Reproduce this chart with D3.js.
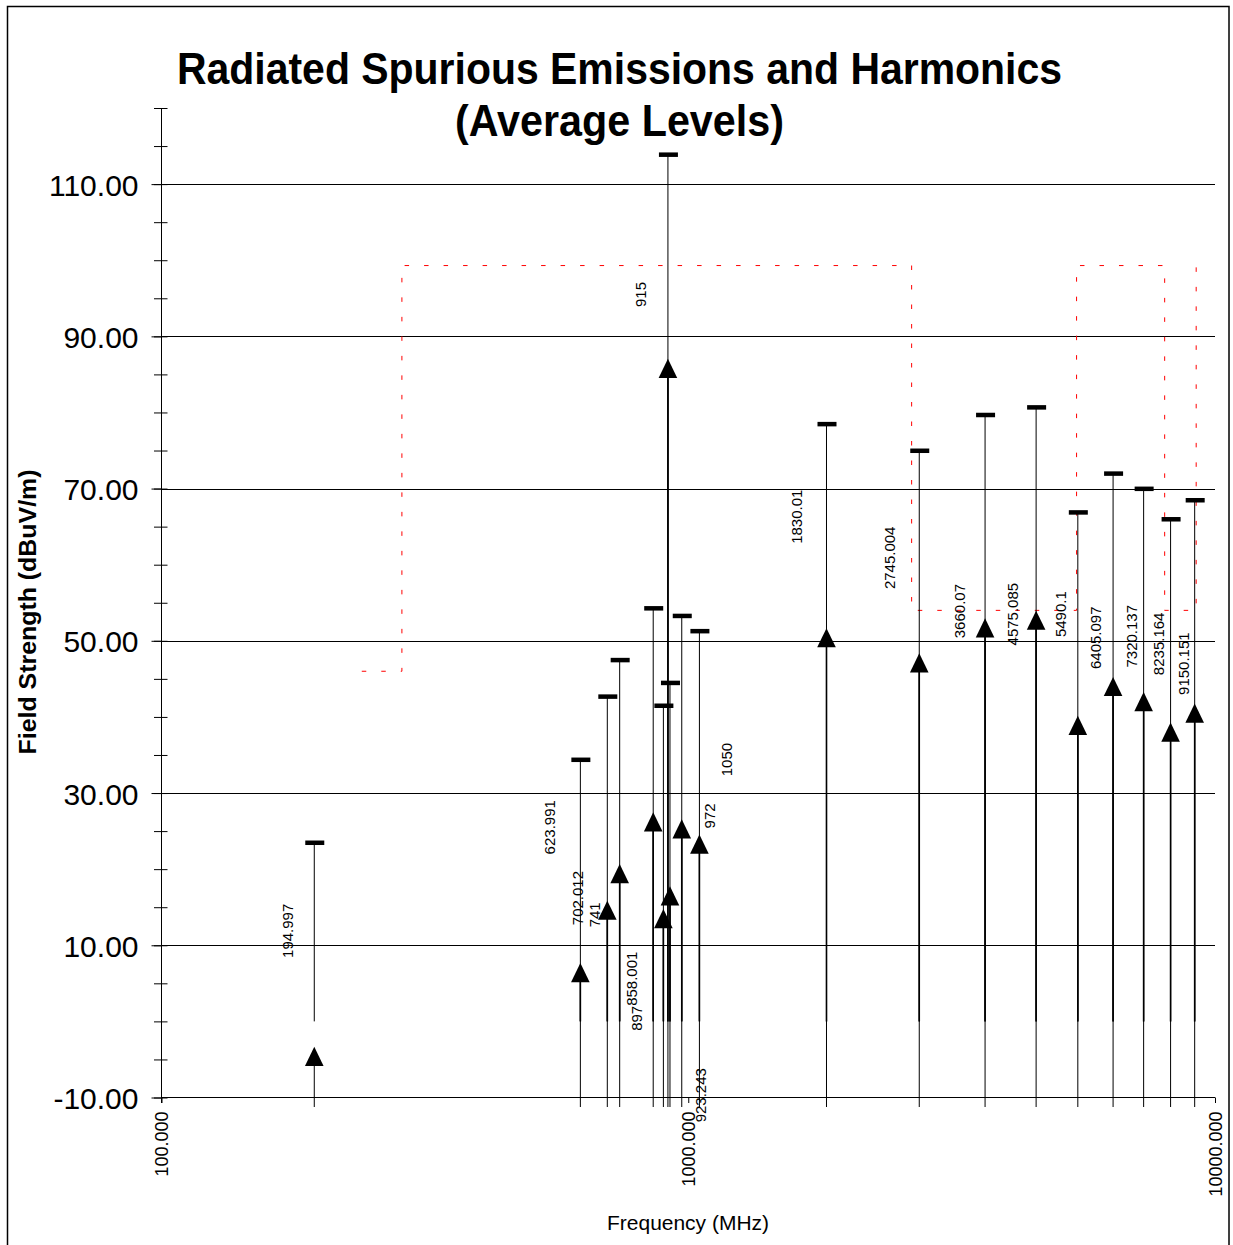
<!DOCTYPE html>
<html>
<head>
<meta charset="utf-8">
<script src="https://cdn.jsdelivr.net/npm/d3@7"></script>
<style>
  html, body { margin: 0; padding: 0; background: #fff; }
  svg { display: block; }
  text { font-family: "Liberation Sans", Arial, sans-serif; fill: #000; }
</style>
</head>
<body>
<svg id="chart" width="1233" height="1245"></svg>
<script>
// ---- data ----
const freqs = [194.997, 623.991, 702.012, 741, 858.001, 897, 915, 923.243, 972, 1050,
               1830.01, 2745.004, 3660.07, 4575.085, 5490.1, 6405.097, 7320.137, 8235.164, 9150.151];
const freqLabels = ["194.997", "623.991", "702.012", "741", "858.001", "897", "915", "923.243", "972", "1050",
                    "1830.01", "2745.004", "3660.07", "4575.085", "5490.1", "6405.097", "7320.137", "8235.164", "9150.151"];
const peakLevels = [23.5, 34.4, 42.7, 47.5, 54.3, 41.5, 113.9, 44.5, 53.3, 51.3,
                    78.5, 75.0, 79.7, 80.7, 66.9, 72.0, 70.0, 66.0, 68.5];
const avgLevels = [-4.6, 6.4, 14.6, 19.4, 26.2, 13.5, 85.8, 16.5, 25.3, 23.3,
                   50.4, 47.1, 51.7, 52.7, 38.9, 44.0, 42.0, 38.0, 40.5];
// level (dBuV/m) at which each data label is centred
const labelLevels = [11.9, 25.5, 16.2, 14.0, 5.6, 0.4, 95.5, -9.7, 27.0, 34.4,
                     66.3, 60.9, 53.9, 53.5, 53.5, 50.4, 50.6, 49.6, 47.0];
// limit line (red dashed)
const limitFreqs = [240, 286, 286, 2655, 2655, 5460, 5460, 8025, 8025, 9210, 9210];
const limitLevels = [46, 46, 99.3, 99.3, 54, 54, 99.3, 99.3, 54, 54, 99.3];
const yMajorTicks = [-10, 10, 30, 50, 70, 90, 110];
const xTicks = [100, 1000, 10000];

// ---- layout (not data) ----
const labelDx = [-27, -31, -30, -25, -21.5, -26.6, -27.7, 31, 28, 26.8,
                 -29.7, -30, -25, -24, -17, -17.8, -12, -12, -10.7];

const svg = d3.select("#chart");
const x = d3.scaleLog().domain([100, 10000]).range([161.5, 1215]);
const y = d3.scaleLinear().domain([-10, 120]).range([1097.5, 108]);

// frame
svg.append("rect").attr("x", 7.5).attr("y", 6.5).attr("width", 1221.5).attr("height", 1250)
  .attr("fill", "none").attr("stroke", "#000").attr("stroke-width", 1.5);

// title
svg.append("text").attr("x", 619.5).attr("y", 83.5).attr("text-anchor", "middle")
  .attr("font-size", 44).attr("font-weight", "bold")
  .attr("textLength", 885).attr("lengthAdjust", "spacingAndGlyphs")
  .text("Radiated Spurious Emissions and Harmonics");
svg.append("text").attr("x", 619.5).attr("y", 136).attr("text-anchor", "middle")
  .attr("font-size", 44).attr("font-weight", "bold")
  .attr("textLength", 329).attr("lengthAdjust", "spacingAndGlyphs")
  .text("(Average Levels)");

// gridlines
svg.append("g").selectAll("line").data(yMajorTicks.filter(d => d > -10)).join("line")
  .attr("x1", x(100)).attr("x2", x(10000))
  .attr("y1", d => Math.round(y(d)) + 0.5).attr("y2", d => Math.round(y(d)) + 0.5)
  .attr("stroke", "#000").attr("stroke-width", 1);

// y axis minor ticks (cross the axis)
const minorTicks = d3.range(-10, 121, 5);
const yMinor = d3.axisLeft(y).tickValues(minorTicks).tickSize(13.5).tickFormat("");
svg.append("g").attr("transform", "translate(167.5,0)").call(yMinor)
  .call(g => g.select(".domain").remove())
  .call(g => g.selectAll("line").attr("stroke", "#000"));

// y axis major
const fmt2 = d3.format(".2f");
const yAxis = d3.axisLeft(y).tickValues(yMajorTicks).tickSize(10).tickPadding(13)
  .tickFormat(d => fmt2(d).replace("\u2212", "-"));
const yg = svg.append("g").attr("transform", "translate(161.5,0)").call(yAxis);
yg.select(".domain").attr("d", `M0,${y(120)}V1103`).attr("stroke", "#000");
yg.selectAll("text").attr("font-size", 30).attr("dy", "0.37em")
  .attr("font-family", "'Liberation Sans', Arial, sans-serif");

// x axis
const xAxis = d3.axisBottom(x).tickValues(xTicks).tickSize(5.5).tickFormat(d3.format(".3f"));
const xg = svg.append("g").attr("transform", "translate(0,1097.5)").call(xAxis);
xg.select(".domain").attr("d", `M${x(100)},0H${x(10000)}`).attr("stroke", "#000");
xg.selectAll("text")
  .attr("font-size", 18).attr("font-family", "'Liberation Sans', Arial, sans-serif")
  .attr("text-anchor", "end").attr("transform", "rotate(-90)")
  .attr("x", -14).attr("y", 0).attr("dy", "0.35em");

// axis titles
svg.append("text").attr("transform", "translate(36,612) rotate(-90)")
  .attr("text-anchor", "middle").attr("font-size", 23).attr("font-weight", "bold")
  .attr("textLength", 285).attr("lengthAdjust", "spacingAndGlyphs")
  .text("Field Strength (dBuV/m)");
svg.append("text").attr("x", 688).attr("y", 1230).attr("text-anchor", "middle")
  .attr("font-size", 21).attr("textLength", 162).attr("lengthAdjust", "spacingAndGlyphs")
  .text("Frequency (MHz)");

// red limit line
const limitData = limitFreqs.map((f, i) => [f, limitLevels[i]]);
svg.append("path").datum(limitData)
  .attr("d", d3.line().x(d => x(d[0])).y(d => y(d[1])))
  .attr("fill", "none").attr("stroke", "#ff0000").attr("stroke-width", 1)
  .attr("stroke-dasharray", "4.5 15");

const pts = freqs.map((f, i) => ({ f, peak: peakLevels[i], avg: avgLevels[i], lab: freqLabels[i], ll: labelLevels[i], dx: labelDx[i] }));
const g = svg.append("g");

// lower stems: from average marker down below the axis
g.selectAll("line.low").data(pts).join("line").attr("class", "low")
  .attr("x1", d => x(d.f)).attr("x2", d => x(d.f))
  .attr("y1", d => y(d.avg)).attr("y2", 1107)
  .attr("stroke", "#000").attr("stroke-width", 1);
// upper stems: from 0 to peak
g.selectAll("line.high").data(pts).join("line").attr("class", "high")
  .attr("x1", d => x(d.f)).attr("x2", d => x(d.f))
  .attr("y1", y(0)).attr("y2", d => y(d.peak))
  .attr("stroke", "#000").attr("stroke-width", 1);
// overlap zone (0 .. avg) appears heavier
g.selectAll("line.mid").data(pts.filter(d => d.avg > 0)).join("line").attr("class", "mid")
  .attr("x1", d => x(d.f)).attr("x2", d => x(d.f))
  .attr("y1", y(0)).attr("y2", d => y(d.avg))
  .attr("stroke", "#000").attr("stroke-width", 1.6);

// peak dashes
g.selectAll("rect.peak").data(pts).join("rect").attr("class", "peak")
  .attr("x", d => x(d.f) - 9).attr("y", d => y(d.peak) - 2)
  .attr("width", 19).attr("height", 4.5).attr("fill", "#000");

// average triangles
g.selectAll("path.tri").data(pts).join("path").attr("class", "tri")
  .attr("d", d => {
    const cx = x(d.f), cy = y(d.avg);
    return `M${cx},${cy - 9.6}L${cx + 9.3},${cy + 9.6}L${cx - 9.3},${cy + 9.6}Z`;
  })
  .attr("fill", "#000");

// data labels
g.selectAll("text.lab").data(pts).join("text").attr("class", "lab")
  .attr("transform", d => `translate(${x(d.f) + d.dx},${y(d.ll)}) rotate(-90)`)
  .attr("text-anchor", "middle").attr("dy", "0.36em").attr("font-size", 15)
  .text(d => d.lab);
</script>
</body>
</html>
